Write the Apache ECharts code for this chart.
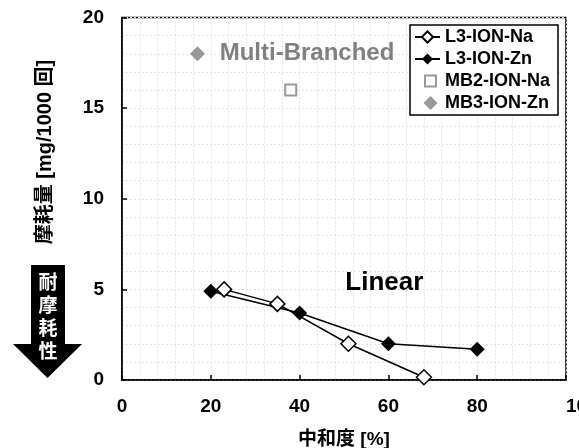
<!DOCTYPE html>
<html>
<head>
<meta charset="utf-8">
<script src="https://cdn.jsdelivr.net/npm/echarts@6/dist/echarts.min.js"></script>
<style>
html,body{margin:0;padding:0;background:#fff;}
#c{width:579px;height:448px;}
</style>
</head>
<body>
<div id="c"></div>
<script>
// ---- data ----
var seriesNames = ['L3-ION-Na', 'L3-ION-Zn', 'MB2-ION-Na', 'MB3-ION-Zn'];
var l3NaX = [23, 35, 51, 68];
var l3NaY = [5.0, 4.2, 2.0, 0.15];
var l3ZnX = [20, 40, 60, 80];
var l3ZnY = [4.9, 3.7, 2.0, 1.7];
var mb2NaX = [38];
var mb2NaY = [16];
var mb3ZnX = [17];
var mb3ZnY = [18];
var xTicks = [0, 20, 40, 60, 80, 100];
var yTicks = [0, 5, 10, 15, 20];
var xAxisName = '中和度 [%]';
var yAxisName = '摩耗量 [mg/1000 回]';
var arrowText = '耐摩耗性';
var annotations = [
  {text: 'Multi-Branched', x: 22, y: 18.0, color: '#808080', size: 24},
  {text: 'Linear', x: 50.3, y: 5.35, color: '#000000', size: 26}
];

function zip(xs, ys) { return xs.map(function (x, i) { return [x, ys[i]]; }); }

var FONT = "'Liberation Sans', Arial, 'Noto Sans CJK JP', sans-serif";
var chart = echarts.init(document.getElementById('c'), null, {renderer: 'canvas'});

var gridLine = {show: true, lineStyle: {color: '#e2e2e2', width: 1, type: [2, 2]}};

var option = {
  backgroundColor: '#ffffff',
  animation: false,
  grid: {left: 122, right: 13, top: 17.5, bottom: 68, show: true, borderColor: '#000', borderWidth: 1.5,
         containLabel: false, outerBoundsMode: 'none'},
  xAxis: {
    type: 'value', min: xTicks[0], max: xTicks[xTicks.length - 1], interval: 20,
    name: xAxisName, nameLocation: 'middle', nameGap: 50,
    nameTextStyle: {fontFamily: FONT, fontSize: 19, fontWeight: 'bold', color: '#000'},
    axisLine: {show: true, onZero: false, lineStyle: {color: '#000', width: 1.5}},
    axisTick: {show: true, inside: true, length: 5, lineStyle: {color: '#000', width: 1.5}},
    axisLabel: {fontFamily: FONT, fontSize: 19, fontWeight: 'bold', color: '#000', margin: 17, alignMaxLabel: 'left'},
    splitLine: gridLine,
    minorTick: {show: false, splitNumber: 5},
    minorSplitLine: gridLine
  },
  yAxis: {
    type: 'value', min: yTicks[0], max: yTicks[yTicks.length - 1], interval: 5,
    axisLine: {show: true, onZero: false, lineStyle: {color: '#000', width: 1.5}},
    axisTick: {show: true, inside: true, length: 5, lineStyle: {color: '#000', width: 1.5}},
    axisLabel: {fontFamily: FONT, fontSize: 19, fontWeight: 'bold', color: '#000', margin: 18},
    splitLine: gridLine,
    minorTick: {show: false, splitNumber: 5},
    minorSplitLine: gridLine
  },
  legend: {
    orient: 'vertical', left: 410, top: 25,
    padding: [3, 8, 3, 4], itemGap: 4, itemWidth: 25, itemHeight: 14, itemTextGap: 4,
    borderColor: '#000', borderWidth: 1.5, backgroundColor: '#fff',
    textStyle: {fontFamily: FONT, fontSize: 18, fontWeight: 'bold', color: '#000'},
    data: [
      {name: seriesNames[0]},
      {name: seriesNames[1]},
      {name: seriesNames[2], icon: 'path://M0,0M25,14M10,1.5L21,1.5L21,12.5L10,12.5Z'},
      {name: seriesNames[3], icon: 'path://M0,0M25,14M15.5,0L22.5,7L15.5,14L8.5,7Z'}
    ]
  },
  series: [
    {
      name: seriesNames[0], type: 'line', data: zip(l3NaX, l3NaY), z: 3,
      symbol: 'diamond', symbolSize: 15,
      itemStyle: {color: '#ffffff', borderColor: '#000000', borderWidth: 1.5},
      lineStyle: {color: '#000000', width: 1.5}
    },
    {
      name: seriesNames[1], type: 'line', data: zip(l3ZnX, l3ZnY), z: 2,
      symbol: 'diamond', symbolSize: 15,
      itemStyle: {color: '#000000', borderColor: '#000000', borderWidth: 0},
      lineStyle: {color: '#000000', width: 1.5}
    },
    {
      name: seriesNames[2], type: 'scatter', data: zip(mb2NaX, mb2NaY),
      symbol: 'rect', symbolSize: 11,
      itemStyle: {color: '#ffffff', borderColor: '#7f7f7f', borderWidth: 2}
    },
    {
      name: seriesNames[3], type: 'scatter', data: zip(mb3ZnX, mb3ZnY),
      symbol: 'diamond', symbolSize: 15,
      itemStyle: {color: '#7f7f7f'}
    }
  ]
};
chart.setOption(option);

// annotations & decorations
var graphics = [];
annotations.forEach(function (a) {
  var p = chart.convertToPixel({gridIndex: 0}, [a.x, a.y]);
  graphics.push({
    type: 'text', x: p[0], y: p[1], z: 10,
    style: {text: a.text, fill: a.color, font: 'bold ' + a.size + 'px ' + FONT, textAlign: 'left', textVerticalAlign: 'middle'}
  });
});
// y axis name (rotated)
graphics.push({
  type: 'text', x: 45, y: 152, rotation: Math.PI / 2, z: 10,
  style: {text: yAxisName, fill: '#000', font: 'bold 20px ' + FONT, textAlign: 'center', textVerticalAlign: 'middle'}
});
// down arrow
graphics.push({
  type: 'polygon', z: 5,
  shape: {points: [[31, 265], [65, 265], [65, 344], [82, 344], [47.5, 378], [13, 344], [31, 344]]},
  style: {fill: '#000'}
});
graphics.push({
  type: 'text', x: 48, y: 318, z: 11,
  style: {text: arrowText.split('').join('\n'), fill: '#fff', font: 'bold 19px ' + FONT, lineHeight: 23, textAlign: 'center', textVerticalAlign: 'middle'}
});
chart.setOption({graphic: graphics});
</script>
</body>
</html>
